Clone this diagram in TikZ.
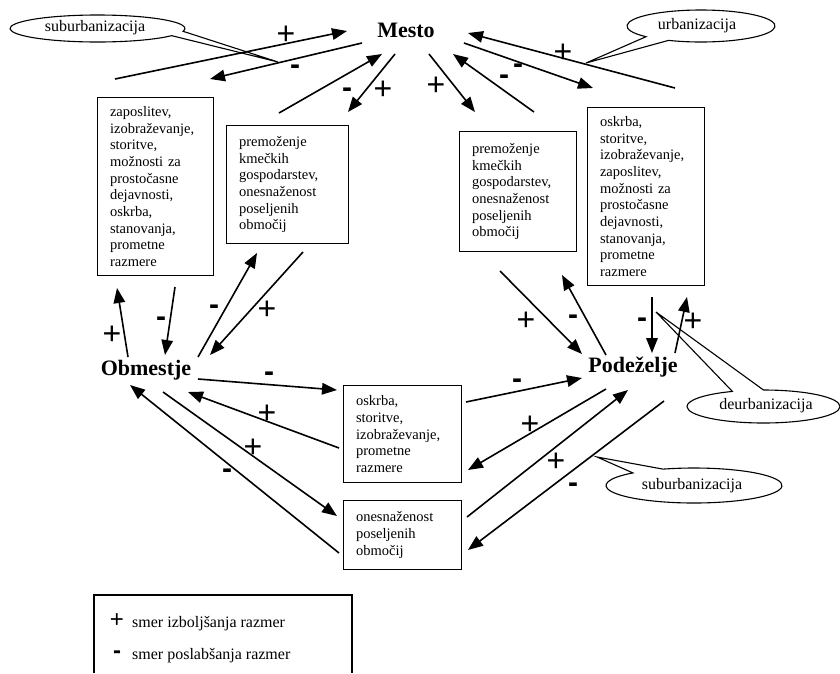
\documentclass[tikz,border=0pt]{standalone}
\usepackage{fontspec}
\setmainfont{Liberation Serif}
\newfontfamily\signfont{Liberation Sans}
\usetikzlibrary{arrows.meta}
\begin{document}
\begin{tikzpicture}[x=1pt,y=-1pt,
  box/.style={draw, line width=1.1pt, anchor=north west, inner xsep=12.5pt, inner ysep=0pt, align=left,
    font=\fontsize{14.5}{16.7}\selectfont},
  place/.style={font=\bfseries\fontsize{22}{24}\selectfont, inner sep=0pt},
  arr/.style={line width=1.6pt, -{Triangle[length=15pt,width=11.5pt]}},
  plus/.style={font=\signfont\fontsize{32}{32}\selectfont, inner sep=0pt},
  minus/.style={font=\signfont\bfseries\fontsize{30}{30}\selectfont, inner sep=0pt},
  bubble/.style={draw, line width=1.1pt, line join=miter},
  bubtext/.style={inner sep=0pt, font=\fontsize{16}{18}\selectfont},
  legtext/.style={anchor=west, inner sep=0pt, font=\fontsize{16}{18}\selectfont}]
\useasboundingbox (0,0) rectangle (840,673);
\fill[white] (0,0) rectangle (840,673);

% main places
\node[place] (mesto) at (406,30) {Mesto};
\node[place] (obm) at (146,370) {Obmestje};
\node[place] (pod) at (633,367) {Podeželje};

% boxes
\node[box, minimum width=116pt, minimum height=178pt, text width=91pt] (bA) at (97,97)
 {zaposlitev,\\izobraževanje,\\storitve,\\možnosti za\\prostočasne\\dejavnosti,\\oskrba,\\stanovanja,\\prometne\\razmere};
\node[box, minimum width=122pt, minimum height=118pt, text width=97pt] (bB) at (226,125)
 {premoženje\\kmečkih\\gospodarstev,\\onesnaženost\\poseljenih\\območij};
\node[box, minimum width=117pt, minimum height=120pt, text width=92pt] (bC) at (459,131)
 {premoženje\\kmečkih\\gospodarstev,\\onesnaženost\\poseljenih\\območij};
\node[box, minimum width=117pt, minimum height=178pt, text width=92pt] (bD) at (587,107)
 {oskrba,\\storitve,\\izobraževanje,\\zaposlitev,\\možnosti za\\prostočasne\\dejavnosti,\\stanovanja,\\prometne\\razmere};
\node[box, minimum width=118pt, minimum height=97pt, text width=93pt] (bE) at (343,385)
 {oskrba,\\storitve,\\izobraževanje,\\prometne\\razmere};
\node[box, minimum width=118pt, minimum height=69pt, text width=93pt] (bF) at (343,500)
 {onesnaženost\\poseljenih\\območij};

% arrow end points
\coordinate (s1) at (115,79);  \coordinate (e1) at (347,31);
\coordinate (s2) at (362,43);  \coordinate (e2) at (210,79);
\coordinate (s3) at (279,113); \coordinate (e3) at (382,54);
\coordinate (s4) at (395,54);  \coordinate (e4) at (348,112);
\coordinate (s5) at (429,54);  \coordinate (e5) at (475,112);
\coordinate (s6) at (534,112); \coordinate (e6) at (453,54);
\coordinate (s7) at (464,43);  \coordinate (e7) at (593,88);
\coordinate (s8) at (675,88);  \coordinate (e8) at (468,33);
\coordinate (s9) at (128,357); \coordinate (e9) at (117,288);
\coordinate (s10) at (175,287); \coordinate (e10) at (165,355);
\coordinate (s11) at (198,357); \coordinate (e11) at (257,253);
\coordinate (s12) at (303,252); \coordinate (e12) at (210,355);
\coordinate (s13) at (198,379); \coordinate (e13) at (337,390);
\coordinate (s14) at (339,448); \coordinate (e14) at (188,392);
\coordinate (s15) at (163,392); \coordinate (e15) at (337,516);
\coordinate (s16) at (339,553); \coordinate (e16) at (130,385);
\coordinate (s17) at (500,271); \coordinate (e17) at (582,354);
\coordinate (s18) at (606,355); \coordinate (e18) at (562,275);
\coordinate (s19) at (652,297); \coordinate (e19) at (652,353);
\coordinate (s20) at (675,353); \coordinate (e20) at (687,297);
\coordinate (s21) at (466,402); \coordinate (e21) at (582,378);
\coordinate (s22) at (606,389); \coordinate (e22) at (468,470);
\coordinate (s23) at (467,517); \coordinate (e23) at (628,390);
\coordinate (s24) at (664,401); \coordinate (e24) at (468,550);

\foreach \i in {1,...,24} {\draw[arr] (s\i) -- (e\i);}

% signs
\node[plus]  (p1)  at (286,35) {+};
\node[minus] (p2)  at (295,70) {-};
\node[minus] (p3)  at (347,93) {-};
\node[plus]  (p4)  at (383,90) {+};
\node[plus]  (p5)  at (436,86) {+};
\node[minus] (p6)  at (504,80) {-};
\node[minus] (p7)  at (518,69) {-};
\node[plus]  (p8)  at (563,53) {+};
\node[plus]  (p9)  at (112,335) {+};
\node[minus] (p10) at (161,322) {-};
\node[minus] (p11) at (214,310) {-};
\node[plus]  (p12) at (267,310) {+};
\node[minus] (p13) at (269,377) {-};
\node[plus]  (p14) at (267,414) {+};
\node[plus]  (p15) at (253,448) {+};
\node[minus] (p16) at (227,474) {-};
\node[plus]  (p17) at (526,321) {+};
\node[minus] (p18) at (573,320) {-};
\node[minus] (p19) at (642,323) {-};
\node[plus]  (p20) at (693,322) {+};
\node[minus] (p21) at (517,384) {-};
\node[plus]  (p22) at (530,425) {+};
\node[plus]  (p23) at (556,462) {+};
\node[minus] (p24) at (573,488) {-};

% callouts
\coordinate (t1) at (278,62);
\coordinate (t2) at (586,63);
\coordinate (t3) at (656,312);
\coordinate (t4) at (597,457);
\coordinate (b1) at ({97.5+87.5*cos(32)},{28.5+13.5*sin(32)});
\coordinate (b2) at ({701+74*cos(138)},{26+16*sin(138)});
\coordinate (b3) at (763.5,390);
\coordinate (b4) at ({694+88*cos(249.4)},{485.5+17.5*sin(249.4)});
\draw[bubble] (b1) arc[start angle=32, end angle=372, x radius=87.5, y radius=13.5] -- (t1) -- cycle;
\draw[bubble] (b2) arc[start angle=138, end angle=476, x radius=74, y radius=16] -- (t2) -- cycle;
\draw[bubble] (b3) arc[start angle=270, end angle=606, x radius=76.5, y radius=16.5] -- (t3) -- cycle;
\draw[bubble] (b4) arc[start angle=249.4, end angle=586, x radius=88, y radius=17.5] -- (t4) -- cycle;
\node[bubtext] (c1) at (95,28) {suburbanizacija};
\node[bubtext] (c2) at (697,26) {urbanizacija};
\node[bubtext] (c3) at (766,406) {deurbanizacija};
\node[bubtext] (c4) at (692,486) {suburbanizacija};

% legend
\coordinate (g1) at (94,673);
\coordinate (g2) at (94,595);
\coordinate (g3) at (352,595);
\coordinate (g4) at (352,673);
\draw[line width=1.1pt] (g1) -- (g2) -- (g3) -- (g4);
\node[plus, font=\signfont\fontsize{24}{24}\selectfont] (lp) at (117,621) {+};
\node[minus, font=\signfont\bfseries\fontsize{24}{24}\selectfont] (lm) at (117,655) {-};
\node[legtext] (lt1) at (132,624) {smer izboljšanja razmer};
\node[legtext] (lt2) at (132,656) {smer poslabšanja razmer};
\end{tikzpicture}
\end{document}
